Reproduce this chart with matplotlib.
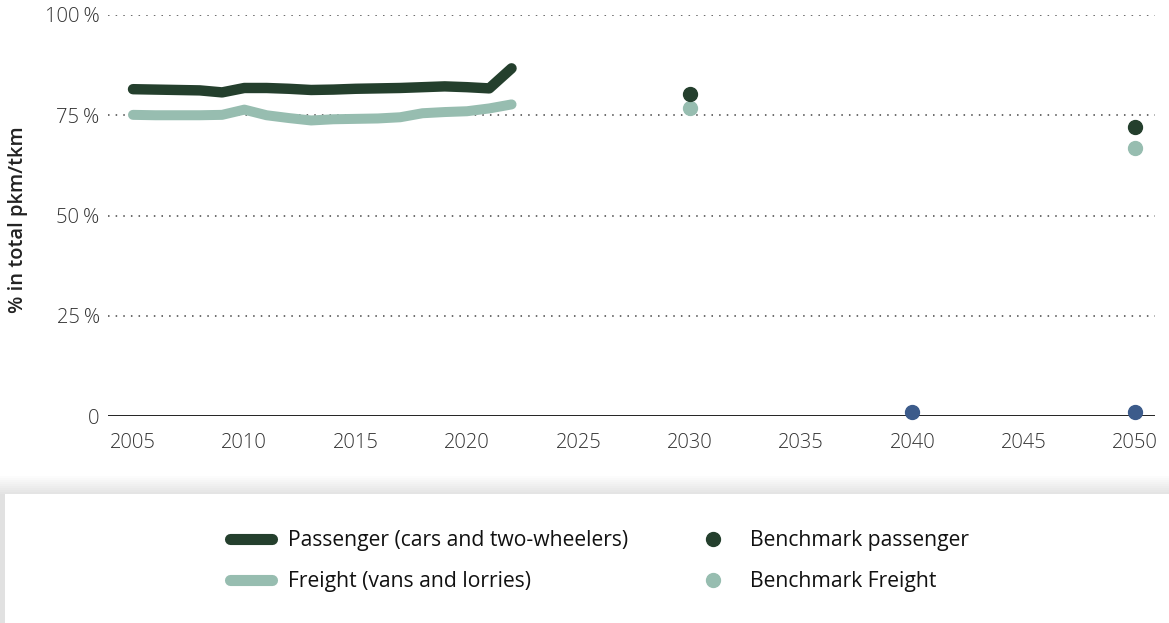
import numpy as np
import matplotlib as mpl
import matplotlib.pyplot as plt
from matplotlib.lines import Line2D
from matplotlib.patches import Rectangle
from matplotlib.ticker import FuncFormatter

mpl.use('Agg')
plt.rcParams['font.family'] = ['Open Sans', 'DejaVu Sans']

# 数据
years = list(range(2005, 2023))
passenger = [81.5, 81.4, 81.3, 81.2, 80.7, 81.8, 81.8, 81.6, 81.3, 81.4,
             81.6, 81.7, 81.8, 82.0, 82.2, 82.0, 81.7, 86.7]
freight = [75.1, 75.0, 75.0, 75.0, 75.1, 76.4, 75.0, 74.3, 73.7, 74.0,
           74.1, 74.2, 74.5, 75.5, 75.8, 76.0, 76.7, 77.7]

bench_years = [2030, 2050]
bench_passenger = [80.3, 72.0]
bench_freight = [76.7, 66.9]

other_years = [2040, 2050]
other_values = [1.0, 1.0]

xticks = list(range(2005, 2051, 5))
yticks = [0, 25, 50, 75, 100]

C_PASS = '#243f2d'
C_FREIGHT = '#97bdb0'
C_BLUE = '#3c5b8b'

W, H = 1169, 623
fig = plt.figure(figsize=(W / 100, H / 100), dpi=100)
ax = fig.add_axes([108 / W, 1 - 416 / H, (1155 - 108) / W, (416 - 15) / H])

ax.plot(years, passenger, color=C_PASS, lw=7.5, solid_capstyle='round',
        solid_joinstyle='round', zorder=3, clip_on=False)
ax.plot(years, freight, color=C_FREIGHT, lw=7.2, solid_capstyle='round',
        solid_joinstyle='round', zorder=2, clip_on=False)
ax.plot(bench_years, bench_freight, 'o', color=C_FREIGHT, ms=10, zorder=4, clip_on=False)
ax.plot(bench_years, bench_passenger, 'o', color=C_PASS, ms=10, zorder=5, clip_on=False)
ax.plot(other_years, other_values, 'o', color=C_BLUE, ms=10, zorder=5, clip_on=False)

ax.set_xlim(2005 - 25 / 22.27, 2050 + 20 / 22.27)
ax.set_ylim(0, 100)
ax.set_xticks(xticks)
ax.set_yticks(yticks)
ax.yaxis.set_major_formatter(FuncFormatter(lambda v, p: '0' if v == 0 else f'{v:.0f}\u2009%'))

for y in yticks[1:]:
    ax.axhline(y, color='#444444', lw=1.1, ls=(0, (1, 4)), zorder=1)
ax.axhline(0, color='#111111', lw=1.3, zorder=1)

for s in ax.spines.values():
    s.set_visible(False)
ax.tick_params(axis='both', length=0, labelsize=14.5, labelcolor='#333333')
ax.tick_params(axis='x', pad=12)
ax.tick_params(axis='y', pad=6)
for t in ax.get_xticklabels() + ax.get_yticklabels():
    t.set_fontweight('light')
ax.set_ylabel('% in total pkm/tkm', fontsize=14.5, fontweight='semibold',
              color='#222222')
ax.yaxis.set_label_coords(-(108 - 28) / (1155 - 108), 0.49)

# 图例底框 + 阴影
for i in range(10):
    fig.patches.append(Rectangle((0, 0), 1, (623 - 494 + i * 2) / H,
                                 transform=fig.transFigure, facecolor='#000000',
                                 alpha=0.012, edgecolor='none', zorder=0))
fig.patches.append(Rectangle((5 / W, 0), 1, (623 - 494) / H, transform=fig.transFigure,
                             facecolor='white', edgecolor='none', zorder=1))

h1 = [Line2D([], [], color=C_PASS, lw=8, solid_capstyle='round'),
      Line2D([], [], color=C_FREIGHT, lw=8, solid_capstyle='round')]
l1 = ['Passenger (cars and two-wheelers)', 'Freight (vans and lorries)']
h2 = [Line2D([], [], ls='none', marker='o', color=C_PASS, ms=10),
      Line2D([], [], ls='none', marker='o', color=C_FREIGHT, ms=10)]
l2 = ['Benchmark passenger', 'Benchmark Freight']

leg_kw = dict(frameon=False, fontsize=15.2, labelspacing=0.95,
              handletextpad=0.75, borderpad=0, borderaxespad=0, labelcolor='#111111')
leg1 = fig.legend(h1, l1, loc='center left', bbox_to_anchor=(230 / W, 1 - 561 / H),
                  handlelength=2.0, **leg_kw)
leg2 = fig.legend(h2, l2, loc='center left', bbox_to_anchor=(692 / W, 1 - 561 / H),
                  handlelength=2.0, **leg_kw)
for lg in (leg1, leg2):
    lg.set_zorder(5)

fig.savefig('out.png', dpi=100)
